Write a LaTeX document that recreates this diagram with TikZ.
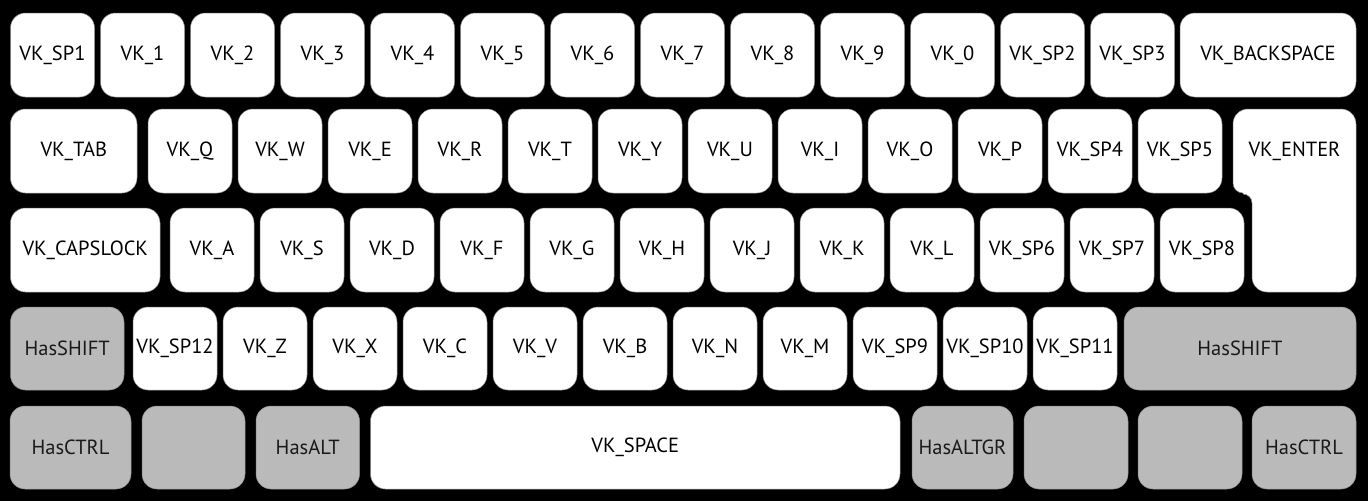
\documentclass[tikz,border=0pt]{standalone}
\usepackage{fontspec}
\setmainfont{PT Sans}
\begin{document}
\begin{tikzpicture}[x=1pt,y=-1pt,
  keybox/.style={draw=black!45,line width=0.5pt,fill=white,rounded corners=15pt,
    inner sep=0pt,outer sep=0pt,font=\fontsize{20.5}{20.5}\selectfont,text=black},
  modbox/.style={keybox,fill=black!27,text=black!90}]
\useasboundingbox[fill=black] (0,0) rectangle (1368,501);
% helper: \K{name}{left}{right}{top}{bottom}{style}{text}
\newcommand\K[7]{\node[#6,minimum width={(#3)-(#2)},minimum height={(#5)-(#4)}] (#1) at ({((#2)+(#3))/2},{((#4)+(#5))/2}) {#7};}
% row 1
\foreach \n/\t [count=\i from 0] in {sp1/VK\_SP1,k1/VK\_1,k2/VK\_2,k3/VK\_3,k4/VK\_4,k5/VK\_5,k6/VK\_6,k7/VK\_7,k8/VK\_8,k9/VK\_9,k0/VK\_0,sp2/VK\_SP2,sp3/VK\_SP3}{
  \K{\n}{10.5+90*\i}{94.5+90*\i}{13}{97}{keybox}{\t}
}
\K{bksp}{1180}{1356}{13}{97}{keybox}{VK\_BACKSPACE}
% row 2
\K{tab}{10.5}{137}{109}{193}{keybox}{VK\_TAB}
\foreach \n/\t [count=\i from 0] in {q/VK\_Q,w/VK\_W,e/VK\_E,r/VK\_R,t/VK\_T,y/VK\_Y,u/VK\_U,ki/VK\_I,o/VK\_O,p/VK\_P,sp4/VK\_SP4,sp5/VK\_SP5}{
  \K{\n}{148+90*\i}{232+90*\i}{109}{193}{keybox}{\t}
}
% enter
\draw[draw=black!45,line width=0.5pt,fill=white]
  (1243,193) [rounded corners=10pt] -- (1233,193) [rounded corners=15pt] -- (1233,109) -- (1356,109) -- (1356,292) -- (1252,292) -- (1252,250)
  [sharp corners] -- (1252,203) arc[start angle=0,end angle=-90,radius=9] -- cycle;
\node[font=\fontsize{20.5}{20.5}\selectfont,inner sep=0pt] (enter) at (1294.5,151) {VK\_ENTER};
% row 3
\K{caps}{10.5}{160}{208}{292}{keybox}{VK\_CAPSLOCK}
\foreach \n/\t [count=\i from 0] in {a/VK\_A,s/VK\_S,d/VK\_D,f/VK\_F,g/VK\_G,h/VK\_H,j/VK\_J,k/VK\_K,l/VK\_L,sp6/VK\_SP6,sp7/VK\_SP7,sp8/VK\_SP8}{
  \K{\n}{170+90*\i}{254+90*\i}{208}{292}{keybox}{\t}
}
% row 4
\K{lshift}{10.5}{124}{307}{390}{modbox}{HasSHIFT}
\foreach \n/\t [count=\i from 0] in {sp12/VK\_SP12,z/VK\_Z,x/VK\_X,c/VK\_C,v/VK\_V,b/VK\_B,n/VK\_N,m/VK\_M,sp9/VK\_SP9,sp10/VK\_SP10,sp11/VK\_SP11}{
  \K{\n}{133+90*\i}{217+90*\i}{307}{390}{keybox}{\t}
}
\K{rshift}{1124}{1356}{307}{390}{modbox}{HasSHIFT}
% row 5
\K{lctrl}{10}{131}{406}{489}{modbox}{HasCTRL}
\K{blank1}{142}{245}{406}{489}{modbox}{}
\K{alt}{256}{359.5}{406}{489}{modbox}{HasALT}
\K{space}{370.5}{900}{406}{489}{keybox}{VK\_SPACE}
\K{altgr}{912}{1013}{406}{489}{modbox}{HasALTGR}
\K{blank2}{1024}{1128}{406}{489}{modbox}{}
\K{blank3}{1138}{1242}{406}{489}{modbox}{}
\K{rctrl}{1252}{1356}{406}{489}{modbox}{HasCTRL}
\end{tikzpicture}
\end{document}
